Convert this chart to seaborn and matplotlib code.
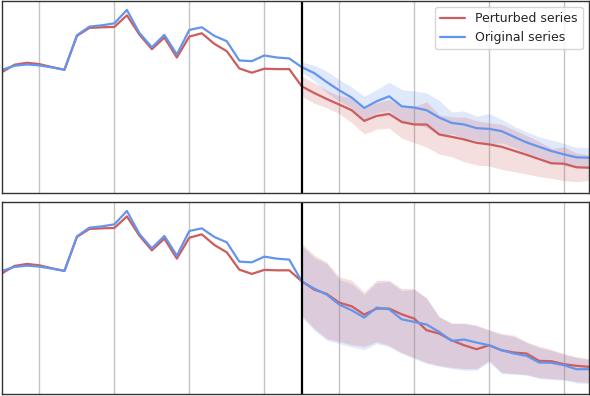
import numpy as np
import pandas as pd
import matplotlib
matplotlib.use("Agg")
import matplotlib.pyplot as plt
import seaborn as sns

# observed part (steps 0-23), same in both panels
hist_orig = [122.7, 126.7, 128, 127, 125, 122.7, 157.3, 166, 167.3, 169.3, 182.7, 159.7,
             145.3, 157.7, 138, 162.7, 165.3, 156.7, 151.3, 132, 131.3, 137, 135, 134]
hist_pert = [120.3, 127.7, 129.7, 128.3, 125.3, 122.7, 156.7, 164.7, 165.3, 165.7, 177.3, 158,
             143.3, 155, 135, 156, 159.3, 148.7, 141.3, 124, 119.7, 123.7, 123.3, 123.3]

# forecast part (steps 24-47), top panel
top_orig = [125.3, 119.3, 110.3, 102, 94.7, 84.3, 91, 96, 86, 84.7, 82, 74.7,
            69.3, 67.7, 64, 63.3, 61, 55.3, 49.7, 45.3, 41, 37.7, 34.7, 34.3]
top_orig_hi = [130.3, 127, 121.3, 112.7, 105.3, 96, 102.7, 110.3, 102.7, 101.3, 99.3, 92,
               80.3, 81.3, 76, 78.7, 72.7, 66, 60.3, 55.3, 52, 48.7, 44.7, 44.7]
top_orig_lo = [120.3, 111.6, 99.3, 91.3, 84.1, 72.6, 79.3, 81.7, 69.3, 68.1, 64.7, 57.4,
               58.3, 54.1, 52, 47.9, 49.3, 44.6, 39.1, 35.3, 30, 26.7, 24.7, 23.9]
top_pert = [106, 99.3, 93.3, 87.7, 82, 71.3, 76.3, 78.3, 70.3, 67.7, 67.7, 57.7,
            55.3, 52.7, 49.3, 47.7, 45.3, 41.3, 37.3, 33, 28.7, 28.3, 24.7, 24.3]
top_pert_hi = [116, 109.6, 102.1, 96.7, 94.5, 84.3, 89.6, 92.6, 86.6, 85.9, 90.4, 77.4,
               75.3, 75.1, 71.6, 69.4, 67.9, 62.3, 56.6, 50.7, 43.7, 45.3, 39.1, 37.1]
top_pert_lo = [96, 89, 84.5, 78.7, 69.5, 58.3, 63, 64, 54, 49.5, 45, 38,
               35.3, 30.3, 27, 26, 22.7, 20.3, 18, 15.3, 13.7, 11.3, 10.3, 11.5]

# forecast part (steps 24-47), bottom panel
bot_orig = [112.3, 105, 99, 89, 83.3, 76, 86, 84.3, 74.3, 71.7, 69, 61.7,
            52.7, 54, 51, 48.3, 43.3, 40, 37.7, 31, 30.7, 28.3, 24.3, 24.3]
bot_orig_hi = [148, 136, 130, 114, 110, 99, 111, 112, 103, 104, 96, 77,
               70, 70, 68, 63, 59, 57, 51, 46, 43, 39, 36, 34]
bot_orig_lo = [76.6, 63.3, 53.3, 50, 46.6, 44, 50, 46.6, 40, 35, 30, 27.3,
               25, 23.3, 23.3, 31.6, 20, 19.3, 18.3, 15, 14, 13.3, 10.6, 10]
bot_pert = [112.3, 104, 99.7, 91, 87.3, 79, 85, 85, 79.3, 75, 63.3, 60,
            53.3, 48.3, 44.3, 48.3, 43.3, 41, 40, 32.7, 32.3, 29.3, 27.7, 26.7]
bot_pert_hi = [150, 138.3, 131.6, 116.6, 113.3, 101.6, 113.3, 113.3, 105, 105, 95, 76.6,
               70.6, 70.6, 68.3, 64, 60, 58.3, 51.6, 47.3, 44, 40, 36.6, 35]
bot_pert_lo = [78, 65, 55, 52, 49, 47, 52, 48, 41, 36, 31, 28,
               26, 25, 25, 33, 21, 20, 19, 16, 15, 14, 12, 11]

n_hist = len(hist_orig)
steps = np.arange(n_hist + len(top_orig))
fc_steps = steps[n_hist:]
split = n_hist
grid_steps = [3, 9, 15, 21, 27, 33, 39, 45]

pal = {"Perturbed series": "indianred", "Original series": "cornflowerblue"}

sns.set_style("white")

fig = plt.figure(figsize=(5.9, 3.96), dpi=100)
ax1 = fig.add_axes([0.0034, 0.5134, 0.9949, 0.4848])
ax2 = fig.add_axes([0.0034, 0.0043, 0.9949, 0.4864])


def panel(ax, fc_orig, o_lo, o_hi, fc_pert, p_lo, p_hi, legend):
    df = pd.concat([
        pd.DataFrame({"step": steps, "value": hist_pert + fc_pert, "series": "Perturbed series"}),
        pd.DataFrame({"step": steps, "value": hist_orig + fc_orig, "series": "Original series"}),
    ])
    ax.fill_between(fc_steps, o_lo, o_hi, color="cornflowerblue", alpha=0.2, lw=0)
    ax.fill_between(fc_steps, p_lo, p_hi, color="indianred", alpha=0.2, lw=0)
    sns.lineplot(data=df, x="step", y="value", hue="series", palette=pal,
                 lw=1.6, ax=ax, legend=legend)
    ax.axvline(split, color="black", lw=1.6)
    ax.set_xlim(0, steps[-1])
    ax.set_ylim(-0.8, 192)
    ax.set_xticks(grid_steps)
    ax.set_yticks([])
    ax.tick_params(length=0, labelbottom=False, labelleft=False)
    ax.grid(axis="x", color="#c4c4c4", lw=1)
    ax.set_axisbelow(True)
    ax.set_xlabel("")
    ax.set_ylabel("")
    for s in ax.spines.values():
        s.set_color("#333333")
        s.set_linewidth(1.0)


panel(ax1, top_orig, top_orig_lo, top_orig_hi, top_pert, top_pert_lo, top_pert_hi, True)
panel(ax2, bot_orig, bot_orig_lo, bot_orig_hi, bot_pert, bot_pert_lo, bot_pert_hi, False)

ax1.legend(loc="upper right", fontsize=9, title=None, frameon=True)

fig.savefig("out.png", dpi=100)
